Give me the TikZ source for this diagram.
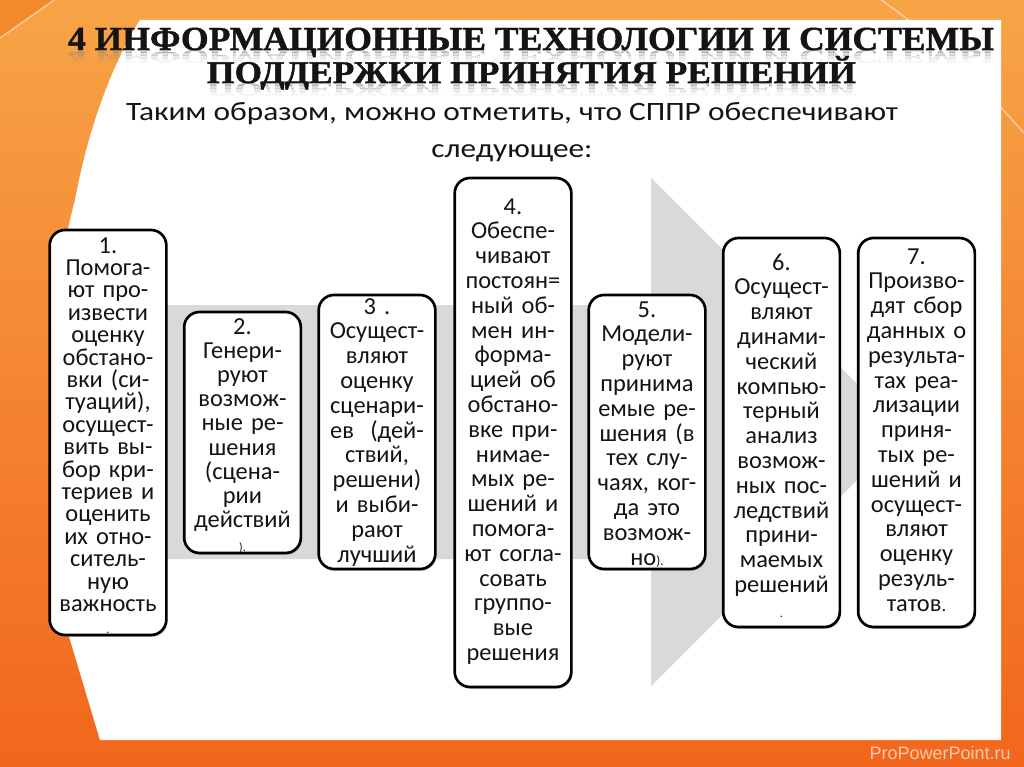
\documentclass[tikz,border=0pt]{standalone}
\usepackage{fontspec}
\setmainfont{Carlito}
\newfontfamily\titlefont{Liberation Serif}[BoldFeatures={FakeBold=1.2}]
\newfontfamily\wmfont{Liberation Sans}
\usetikzlibrary{shadows}
\definecolor{orangetop}{HTML}{F7A447}
\definecolor{orangebot}{HTML}{F2661B}
\definecolor{orangedark}{HTML}{F08A2C}
\definecolor{arrowgray}{HTML}{D9D9D9}
\definecolor{inkblack}{HTML}{141414}
\lineskiplimit=-100pt
\newsavebox\measbox
\newdimen\measw
\newdimen\meash
\newcommand\fitline[4]{{#1\sbox\measbox{#4}\measw=\wd\measbox
  \meash=\fontcharht\font`\Т
  \pgfmathsetmacro\fitsx{#2/\measw}\pgfmathsetmacro\fitsy{#3/\meash}%
  \xdef\lastsx{\fitsx}\xdef\lastsy{\fitsy}%
  \scalebox{\fitsx}[\fitsy]{#4}}}
\newcommand\titlefnt{\titlefont\bfseries\fontsize{25}{25}\selectfont}
\newcommand\subfnt{\fontsize{20}{22}\selectfont}
\newcommand\titleA{4 ИНФОРМАЦИОННЫЕ ТЕХНОЛОГИИ И СИСТЕМЫ}
\newcommand\titleB{ПОДДЕРЖКИ ПРИНЯТИЯ РЕШЕНИЙ}
\begin{document}
\begin{tikzpicture}[x=0.75pt,y=-0.75pt,
  stepbox/.style={draw=black, line width=2pt, rounded corners=11.5pt, fill=white,
    minimum width=87.5pt, inner sep=0pt,
    drop shadow={shadow xshift=0.8pt, shadow yshift=-1.4pt, opacity=0.45}},
  steptext/.style={anchor=base, inner sep=0pt, align=center, text width=87pt,
    text=inkblack, font=\fontsize{18.3}{18.6}\selectfont},
  tightlines/.style={font=\fontsize{18.3}{16.8}\selectfont},
  midlines/.style={font=\fontsize{18.3}{18.15}\selectfont},
  titletext/.style={anchor=base, inner sep=0pt, text=inkblack},
  reflect/.style={anchor=base, inner sep=0pt, yscale=-0.6, text=gray},
  paleline/.style={draw=white, opacity=0.45, line width=1.2pt}]
\useasboundingbox (0,0) rectangle (1024,767);
% background
\shade[top color=orangetop, bottom color=orangebot] (0,0) rectangle (1024,767);
\fill[orangedark] (0,0) -- (54,0) -- (0,38) -- cycle;
\draw[paleline] (54,0) -- (0,38);
\draw[paleline] (881,0) .. controls (940,40) and (990,95) .. (1024,133);
% white panel
\fill[white] (140,20) -- (1001,20) -- (1001,740) -- (100,740) -- (68,633)
  .. controls (45,520) and (40,330) .. (75,200)
  .. controls (90,120) and (115,60) .. (140,20) -- cycle;
% grey arrow
\fill[arrowgray] (100,305) -- (651,305) -- (651,178) -- (905,432)
  -- (651,686) -- (651,559) -- (100,559) -- cycle;
% title reflections, fading in strips
\foreach \ya/\yb/\op [count=\k] in {50/53/0.40, 53/56/0.26, 56/59/0.15, 59/63/0.07}{
  \begin{scope}
    \clip (0,\ya) rectangle (1024,\yb);
    \node[reflect, opacity=\op] (refa\k) at (531,50) {\fitline{\titlefnt}{694.5}{16.5}{\titleA}};
  \end{scope}
}
\foreach \ya/\yb/\op [count=\k] in {83/86/0.40, 86/89/0.26, 89/92/0.15, 92/96/0.07}{
  \begin{scope}
    \clip (0,\ya) rectangle (1024,\yb);
    \node[reflect, opacity=\op] (refb\k) at (531.5,83) {\fitline{\titlefnt}{486.75}{15.5}{\titleB}};
  \end{scope}
}
% title
\node[titletext] (title1) at (531,50) {\fitline{\titlefnt}{694.5}{16.5}{\titleA}};
\node[titletext] (title2) at (531.5,83) {\fitline{\titlefnt}{486.75}{15.5}{\titleB}};
% subtitle
\node[titletext] (sub1) at (512,121) {\fitline{\subfnt}{579}{12.75}{Таким образом, можно отметить, что СППР обеспечивают}};
\node[titletext] (sub2) at (512,157) {\subfnt\scalebox{\lastsx}[\lastsy]{следующее:}};
% boxes
\node[stepbox, minimum height=303.75pt] (b1) at (108,432.5) {};
\node[stepbox, minimum height=180.75pt] (b2) at (242.5,432.5) {};
\node[stepbox, minimum height=205.5pt] (b3) at (377,432) {};
\node[stepbox, minimum height=381.75pt] (b4) at (513,432.5) {};
\node[stepbox, minimum height=205.5pt] (b5) at (647,432) {};
\node[stepbox, minimum height=291.75pt] (b6) at (781.5,432.5) {};
\node[stepbox, minimum height=291.75pt] (b7) at (916.5,432.5) {};
% texts
\node[steptext, tightlines] (t1) at (108,253) {1.\\Помога-\\ют про-\\извести\\оценку\\обстано-\\вки (си-\\туаций),\\осущест-\\вить вы-\\бор кри-\\териев и\\оценить\\их отно-\\ситель-\\ную\\важность\\{\fontsize{9}{9}\selectfont .}};
\node[steptext, midlines] (t2) at (242.5,334) {2.\\Генери-\\руют\\возмож-\\ные ре-\\шения\\(сцена-\\рии\\действий\\{\fontsize{9}{9}\selectfont ).}};
\node[steptext] (t3) at (377,314) {3 .\\Осущест-\\вляют\\оценку\\сценари-\\ев\ \ (дей-\\ствий,\\решени)\\и выби-\\рают\\лучший};
\node[steptext] (t4) at (513,214) {4.\\Обеспе-\\чивают\\постоян=\\ный об-\\мен ин-\\форма-\\цией об\\обстано-\\вке при-\\нимае-\\мых ре-\\шений и\\помога-\\ют согла-\\совать\\группо-\\вые\\решения};
\node[steptext] (t5) at (647,317) {5.\\Модели-\\руют\\принима\\емые ре-\\шения (в\\тех слу-\\чаях, ког-\\да это\\возмож-\\но{\fontsize{10}{10}\selectfont ).}};
\node[steptext] (t6) at (781.5,270) {6.\\Осущест-\\вляют\\динами-\\ческий\\компью-\\терный\\анализ\\возмож-\\ных пос-\\ледствий\\прини-\\маемых\\решений\\{\fontsize{9}{9}\selectfont .}};
\node[steptext] (t7) at (916.5,264) {7.\\Произво-\\дят сбор\\данных о\\результа-\\тах реа-\\лизации\\приня-\\тых ре-\\шений и\\осущест-\\вляют\\оценку\\резуль-\\татов{\fontsize{14}{14}\selectfont .}};
% watermark
\node[anchor=base east, inner sep=0pt, text=white, opacity=0.65, font=\wmfont\fontsize{13.5}{14}\selectfont] (wm) at (1011,759) {ProPowerPoint.ru};
\end{tikzpicture}
\end{document}
